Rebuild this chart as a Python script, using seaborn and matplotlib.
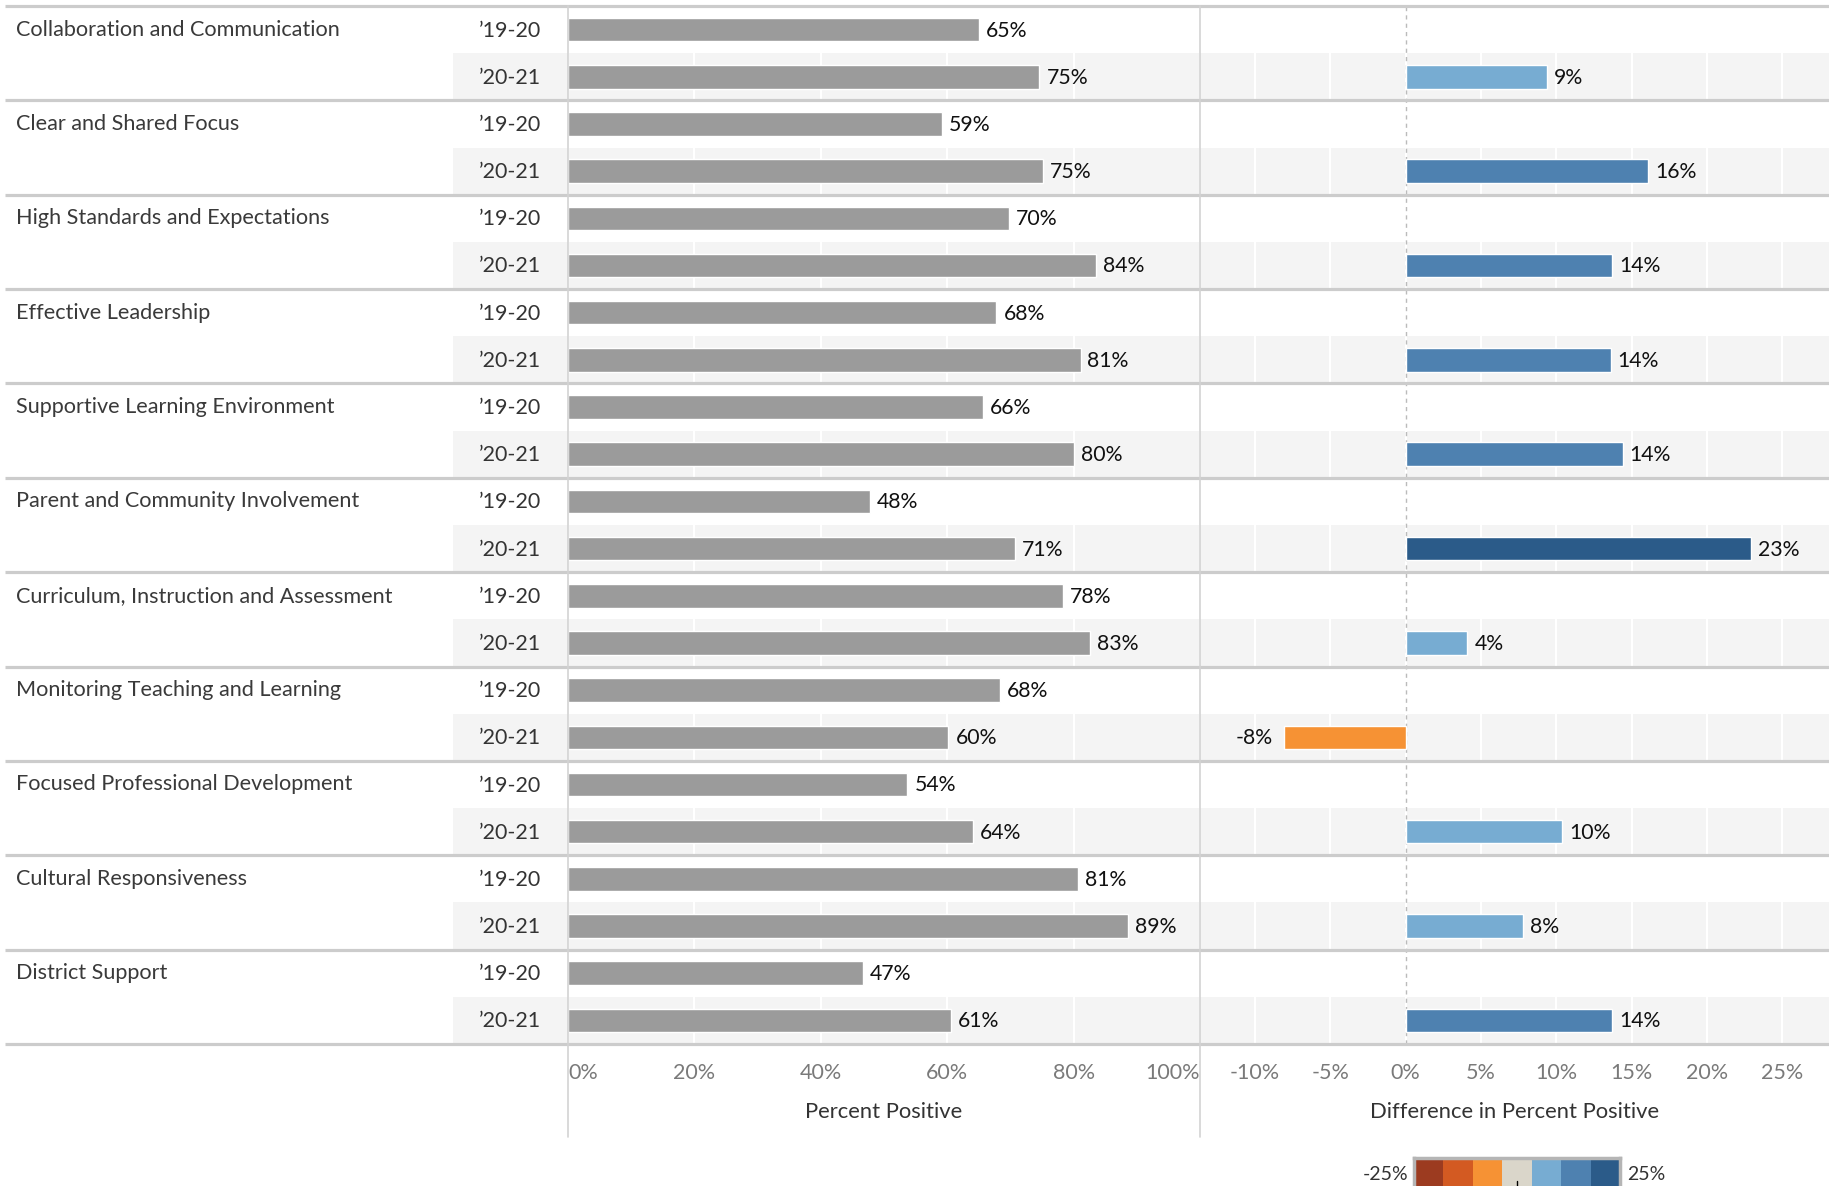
# Survey domains: percent positive by year and change between years
import numpy as np
import pandas as pd
import matplotlib
matplotlib.use("Agg")
import matplotlib.pyplot as plt
from matplotlib.colors import ListedColormap
from matplotlib.patches import Rectangle
import seaborn as sns

# Data
categories = [
    "Collaboration and Communication",
    "Clear and Shared Focus",
    "High Standards and Expectations",
    "Effective Leadership",
    "Supportive Learning Environment",
    "Parent and Community Involvement",
    "Curriculum, Instruction and Assessment",
    "Monitoring Teaching and Learning",
    "Focused Professional Development",
    "Cultural Responsiveness",
    "District Support",
]
years = ["\u201919-20", "\u201920-21"]
pct_1920 = [65.0, 59.1, 69.8, 67.8, 65.6, 47.8, 78.3, 68.3, 53.7, 80.7, 46.7]
pct_2021 = [74.6, 75.2, 83.6, 81.1, 80.0, 70.7, 82.6, 60.2, 64.1, 88.6, 60.6]
diff = [9.4, 16.1, 13.7, 13.6, 14.4, 22.9, 4.1, -8.1, 10.4, 7.8, 13.7]

pct_ticks = [0, 20, 40, 60, 80, 100]
diff_ticks = [-10, -5, 0, 5, 10, 15, 20, 25]
legend_colors = ["#9c3b20", "#d35a22", "#f69234", "#dad6ca", "#77acd2", "#4e81b0", "#2b5b89"]
legend_range = [-25, 25]

# Long tables
rows = [f"{c}|{y}" for c in categories for y in years]
pct_values = [v for pair in zip(pct_1920, pct_2021) for v in pair]
df_pct = pd.DataFrame({"row": rows, "value": pct_values})

step = (legend_range[1] - legend_range[0]) / len(legend_colors)
bins = [int(np.clip((d - legend_range[0]) // step, 0, len(legend_colors) - 1)) for d in diff]
df_diff = pd.DataFrame({
    "row": [f"{c}|{years[1]}" for c in categories],
    "diff": diff,
    "color": [legend_colors[b] for b in bins],
})

# Layout (pixels)
W, H = 1829, 1186
TOP, BOTTOM = 6, 1044
ROW_H = (BOTTOM - TOP) / len(rows)
PCT_L, PCT_R = 568, 1200
DIFF_L, DIFF_R = 1200, W
GRAY = "#9b9b9b"
BAND = "#f4f4f4"
FONT = ["Lato", "DejaVu Sans"]

sns.set_theme(style="white")
plt.rcParams["font.family"] = FONT

fig = plt.figure(figsize=(W / 100, H / 100), dpi=100)

ax_bg = fig.add_axes([0, 0, 1, 1], zorder=0)
ax_bg.set_xlim(0, W)
ax_bg.set_ylim(H, 0)
ax_bg.axis("off")

def panel(left, right):
    ax = fig.add_axes([left / W, (H - BOTTOM) / H, (right - left) / W, (BOTTOM - TOP) / H], zorder=1)
    return ax

ax_pct = panel(PCT_L, PCT_R)
ax_diff = panel(DIFF_L, DIFF_R)

# Row banding for second year rows
for i in range(1, len(rows), 2):
    ax_bg.add_patch(Rectangle((453, TOP + i * ROW_H), W - 453, ROW_H, color=BAND, lw=0))

# Bars
sns.barplot(data=df_pct, x="value", y="row", order=rows, color=GRAY,
            saturation=1, width=0.5, ax=ax_pct)
sns.barplot(data=df_diff, x="diff", y="row", order=rows, hue="row",
            palette=dict(zip(df_diff["row"], df_diff["color"])),
            saturation=1, width=0.5, legend=False, ax=ax_diff)

for i, v in enumerate(pct_values):
    ax_pct.annotate(f"{round(v)}%", (v, i), xytext=(5, -0.7), textcoords="offset points",
                    ha="left", va="center", fontsize=15.3, color="#111111")
for r, v in zip(df_diff["row"], diff):
    i = rows.index(r)
    if v >= 0:
        ax_diff.annotate(f"{round(v)}%", (v, i), xytext=(5, -0.7), textcoords="offset points",
                         ha="left", va="center", fontsize=15.3, color="#111111")
    else:
        ax_diff.annotate(f"{round(v)}%", (v, i), xytext=(-8, -0.7), textcoords="offset points",
                         ha="right", va="center", fontsize=15.3, color="#111111")

# Axes styling
x0 = 1405.6
ppu = 15.07
ax_pct.set_xlim(0, 100)
ax_diff.set_xlim((DIFF_L - x0) / ppu, (DIFF_R - x0) / ppu)
ax_diff.axvline(0, color="#bbbbbb", ls=(0, (3, 3)), lw=1, zorder=0.8)

for ax, ticks, title in [(ax_pct, pct_ticks, "Percent Positive"),
                         (ax_diff, diff_ticks, "Difference in Percent Positive")]:
    ax.set_facecolor("none")
    ax.set_ylim(len(rows) - 0.5, -0.5)
    ax.set_yticks([])
    ax.set_ylabel("")
    ax.set_xticks(ticks)
    ax.set_xticklabels([f"{t}%" for t in ticks])
    ax.tick_params(axis="x", length=0, pad=13.5, labelsize=15.5, labelcolor="#7a7a7a")
    ax.grid(axis="x", color="white", lw=1.5)
    ax.set_axisbelow(True)
    for s in ax.spines.values():
        s.set_visible(False)
    ax.set_xlabel(title, fontsize=15.8, color="#333333", labelpad=14)

lbls = ax_pct.get_xticklabels()
lbls[0].set_ha("left")
lbls[-1].set_ha("right")

# Row labels
for k, c in enumerate(categories):
    ax_bg.text(16, TOP + (2 * k + 0.5) * ROW_H, c, ha="left", va="center",
               fontsize=15.6, color="#3a3a3a")
for i, r in enumerate(rows):
    ax_bg.text(541, TOP + (i + 0.5) * ROW_H + 1, r.split("|")[1], ha="right", va="center",
               fontsize=15.4, color="#333333")

# Separators and panel borders on top
ax_top = fig.add_axes([0, 0, 1, 1], zorder=5)
ax_top.set_xlim(0, W)
ax_top.set_ylim(H, 0)
ax_top.axis("off")
for k in range(len(categories) + 1):
    y = TOP + 2 * k * ROW_H
    ax_top.plot([5, W], [y, y], color="#cccccc", lw=2.3, solid_capstyle="butt")
for x in [PCT_L, PCT_R]:
    ax_top.plot([x, x], [TOP, 1137], color="#d3d3d3", lw=1.2)

# Colour legend
ax_leg = fig.add_axes([1414 / W, -4 / H, 206 / W, 32 / H], zorder=6)
sns.heatmap(np.arange(len(legend_colors)).reshape(1, -1), cmap=ListedColormap(legend_colors),
            cbar=False, xticklabels=False, yticklabels=False, ax=ax_leg)
for s in ax_leg.spines.values():
    s.set_visible(True)
    s.set_color("#b5b5b5")
    s.set_linewidth(2.5)
ax_leg.plot([3.5, 3.5], [1.0, 0.72], color="black", lw=1)
ax_top.text(1408, 1174, f"{legend_range[0]}%", ha="right", va="center", fontsize=14, color="#333333")
ax_top.text(1627, 1174, f"{legend_range[1]}%", ha="left", va="center", fontsize=14, color="#333333")

fig.savefig("out.png", dpi=100)
